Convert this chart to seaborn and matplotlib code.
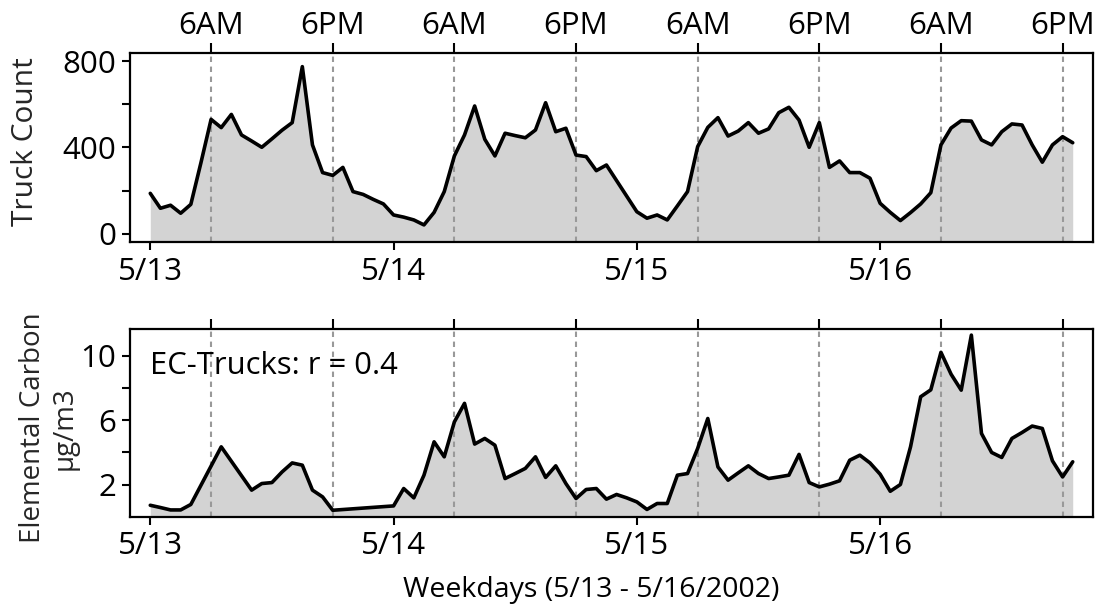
import numpy as np
import pandas as pd
import matplotlib
matplotlib.use("Agg")
import matplotlib.pyplot as plt
import seaborn as sns

# ---------------- data ----------------
truck_hours = list(range(0, 92))
truck_counts = [188, 119, 133, 96, 137, 330, 530, 492, 553, 458,
                430, 401, 440, 480, 515, 774, 412, 284, 271, 308,
                196, 183, 160, 139, 88, 78, 65, 42, 100, 196,
                361, 458, 592, 438, 361, 466, 455, 445, 481, 607,
                473, 489, 365, 358, 293, 319, 247, 175, 103, 73,
                88, 65, 130, 196, 404, 493, 538, 453, 476, 515,
                466, 486, 561, 586, 527, 401, 515, 308, 338, 284,
                284, 258, 142, 100, 62, 99, 139, 191, 412, 490,
                524, 522, 435, 412, 473, 509, 504, 412, 332, 412,
                450, 422]

ec_hours = [0, 1, 2, 3, 4, 7, 10, 11, 12, 13, 14, 15, 16, 17, 18,
            24, 25, 26, 27, 28, 29, 30, 31, 32, 33, 34, 35, 36, 37, 38,
            39, 40, 41, 42, 43, 44, 45, 46, 47, 48, 49, 50, 51, 52, 53,
            54, 55, 56, 57, 58, 59, 60, 61, 62, 63, 64, 65, 66, 67, 68,
            69, 70, 71, 72, 73, 74, 75, 76, 77, 78, 79, 80, 81, 82, 83,
            84, 85, 86, 87, 88, 89, 90, 91]
ec_values = [0.71, 0.57, 0.42, 0.42, 0.76, 4.34, 1.65, 2.06, 2.12, 2.78, 3.34, 3.20, 1.65, 1.23, 0.40,
             0.67, 1.75, 1.17, 2.58, 4.65, 3.72, 5.89, 7.04, 4.51, 4.86, 4.44, 2.37, 2.68, 3.00, 3.72,
             2.44, 3.16, 2.06, 1.13, 1.69, 1.75, 1.09, 1.38, 1.17, 0.92, 0.45, 0.82, 0.82, 2.58, 2.68,
             4.24, 6.10, 3.09, 2.27, 2.72, 3.16, 2.68, 2.37, 2.47, 2.58, 3.87, 2.12, 1.85, 2.02, 2.23,
             3.51, 3.82, 3.34, 2.64, 1.58, 2.00, 4.34, 7.45, 7.88, 10.21, 8.85, 7.86, 11.28, 5.17, 3.99,
             3.68, 4.86, 5.23, 5.63, 5.48, 3.47, 2.47, 3.41]

day_ticks = [0, 24, 48, 72]
day_labels = ["5/13", "5/14", "5/15", "5/16"]
marker_hours = [6, 18, 30, 42, 54, 66, 78, 90]
marker_labels = ["6AM", "6PM", "6AM", "6PM", "6AM", "6PM", "6AM", "6PM"]

truck_df = pd.DataFrame({"hour": truck_hours, "count": truck_counts})
ec_df = pd.DataFrame({"hour": ec_hours, "ec": ec_values})

# ---------------- style ----------------
sns.set_theme(style="ticks")
plt.rcParams["font.family"] = ["Open Sans", "DejaVu Sans"]
plt.rcParams["axes.linewidth"] = 1.6
plt.rcParams["xtick.major.width"] = 1.5
plt.rcParams["ytick.major.width"] = 1.5
plt.rcParams["ytick.minor.width"] = 1.5
plt.rcParams["xtick.major.size"] = 6
plt.rcParams["ytick.major.size"] = 6
plt.rcParams["ytick.minor.size"] = 6
plt.rcParams["text.color"] = "black"
plt.rcParams["xtick.color"] = "black"
plt.rcParams["ytick.color"] = "black"
plt.rcParams["axes.edgecolor"] = "black"

fig = plt.figure(figsize=(11.04, 6.14), dpi=100)
ax1 = fig.add_axes([130 / 1104, 1 - 242 / 614, 963 / 1104, 189 / 614])
ax2 = fig.add_axes([130 / 1104, 1 - 516.7 / 614, 963 / 1104, 187.4 / 614])

xlim = (-2, 93)
fill_c = "#d3d3d3"
dash_c = "#999999"
tick_fs = 22.5

def panel(ax, df, ycol, ylim, major, minor, top_labels):
    ax.fill_between(df["hour"], df[ycol], ylim[0], color=fill_c, lw=0, zorder=1)
    for h in marker_hours:
        ax.axvline(h, color=dash_c, lw=1.5, ls=(0, (2.6, 2.2)), zorder=2)
    sns.lineplot(data=df, x="hour", y=ycol, ax=ax, color="black", lw=2.6,
                 zorder=3, sort=True, estimator=None)
    ax.set_xlim(*xlim)
    ax.set_ylim(*ylim)
    ax.set_xticks(day_ticks)
    ax.set_xticklabels(day_labels, fontsize=tick_fs)
    ax.set_yticks(major)
    ax.set_yticks(minor, minor=True)
    ax.tick_params(axis="y", labelsize=tick_fs, pad=4, which="both", direction="out")
    ax.tick_params(axis="x", pad=4.5, direction="out")
    ax.set_xlabel("")
    ax.set_ylabel("")
    sec = ax.secondary_xaxis("top")
    sec.set_xticks(marker_hours)
    if top_labels:
        sec.set_xticklabels(marker_labels, fontsize=tick_fs)
    else:
        sec.set_xticklabels([])
    sec.tick_params(axis="x", length=7, width=1.5, pad=1.5, direction="out")
    for s in ax.spines.values():
        s.set_visible(True)
        s.set_linewidth(1.6)
    sec.spines["top"].set_visible(False)

panel(ax1, truck_df, "count", (-37, 837), [0, 400, 800], [200, 600], True)
panel(ax2, ec_df, "ec", (0, 11.64), [2, 6, 10], [4, 8], False)

ax1.set_ylabel("Truck Count", fontsize=21.5)
ax1.yaxis.set_label_coords(-0.0935, 0.53)
ax2.set_ylabel("Elemental Carbon\nµg/m3", fontsize=20, linespacing=1.2)
ax2.yaxis.set_label_coords(-0.053, 0.473)

ax2.text(0.0, 9.35, "EC-Trucks: r = 0.4", fontsize=22.3, ha="left", va="center", zorder=5)

fig.text(591.5 / 1104, 1 - 590 / 614, "Weekdays (5/13 - 5/16/2002)", fontsize=20.5,
         ha="center", va="center")

fig.savefig("out.png", dpi=100, facecolor="white")
